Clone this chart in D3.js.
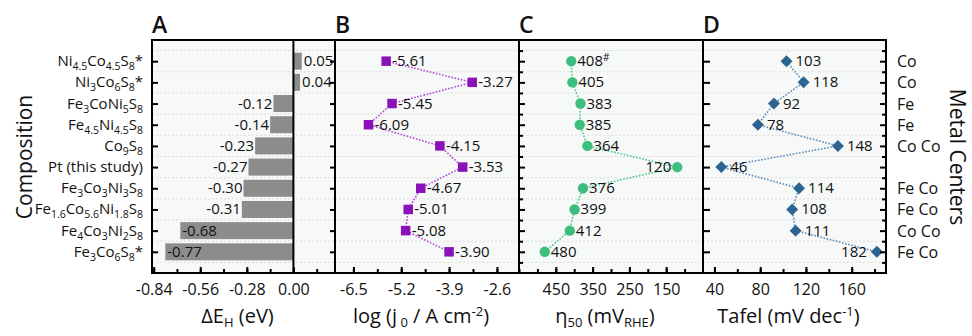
<!DOCTYPE html>
<html>
<head>
<meta charset="utf-8">
<script src="https://cdn.jsdelivr.net/npm/d3@7"></script>
<style>
  body { margin: 0; background: #fff; }
  text { font-family: "Open Sans", "Noto Sans", sans-serif; fill: #111; }
</style>
</head>
<body>
<div id="chart"></div>
<script>
// data ({..} = subscript)
var compositions = ["Ni{4.5}Co{4.5}S{8}*", "Ni{3}Co{6}S{8}*", "Fe{3}CoNi{5}S{8}", "Fe{4.5}Ni{4.5}S{8}",
  "Co{9}S{8}", "Pt (this study)", "Fe{3}Co{3}Ni{3}S{8}", "Fe{1.6}Co{5.6}Ni{1.8}S{8}", "Fe{4}Co{3}Ni{2}S{8}", "Fe{3}Co{6}S{8}*"];
var deltaE = [0.05, 0.04, -0.12, -0.14, -0.23, -0.27, -0.30, -0.31, -0.68, -0.77];
var logJ0 = [-5.61, -3.27, -5.45, -6.09, -4.15, -3.53, -4.67, -5.01, -5.08, -3.90];
var eta50 = [408, 405, 383, 385, 364, 120, 376, 399, 412, 480];
var eta50Notes = ["#", "", "", "", "", "", "", "", "", ""];
var tafel = [103, 118, 92, 78, 148, 46, 114, 108, 111, 182];
var metalCenters = ["Co", "Co", "Fe", "Fe", "Co Co", "", "Fe Co", "Fe Co", "Co Co", "Fe Co"];

var ticksA = [-0.84, -0.56, -0.28, 0.00];
var ticksB = [-6.5, -5.2, -3.9, -2.6];
var ticksC = [450, 350, 250, 150];
var ticksD = [40, 80, 120, 160];

var width = 972, height = 336;
var plotTop = 40, plotBottom = 273;

// plain hyphen for negatives, like the original figure
var loc = d3.formatLocale({decimal: ".", thousands: ",", grouping: [3], currency: ["", ""], minus: "-"});
var f2 = loc.format(".2f"), f1 = loc.format(".1f"), fd = loc.format("d");

var svg = d3.select("#chart").append("svg")
  .attr("width", width).attr("height", height);

var idx = d3.range(compositions.length);
// one step per category, one step of empty room above and below
var y = d3.scaleLinear().domain([-1, compositions.length]).range([plotTop, plotBottom]);
var majorY = idx;
var minorY = d3.range(-0.5, compositions.length, 1);

// panels
var panels = [
  {key: "A", x0: 152, x1: 335, domain: [-0.85, 0.25], ticks: ticksA, minorStep: 0.14,
   fmt: f2, title: [["ΔE", ""], ["H", "sub"], [" (eV)", ""]]},
  {key: "B", x0: 335, x1: 519, domain: [-7, -2], ticks: ticksB, minorStep: 0.65,
   fmt: f1, title: [["log (j", ""], [" 0", "sub"], [" / A cm", ""], ["-2", "sup"], [")", ""]]},
  {key: "C", x0: 519, x1: 703, domain: [550, 50], ticks: ticksC, minorStep: 50,
   fmt: fd, title: [["η", ""], ["50", "sub"], [" (mV", ""], ["RHE", "sub"], [")", ""]]},
  {key: "D", x0: 703, x1: 886, domain: [30, 190], ticks: ticksD, minorStep: 20,
   fmt: fd, title: [["Tafel (mV dec", ""], ["-1", "sup"], [")", ""]]}
];

panels.forEach(function(p) {
  p.x = d3.scaleLinear().domain(p.domain).range([p.x0, p.x1]);
  var lo = Math.min(p.domain[0], p.domain[1]), hi = Math.max(p.domain[0], p.domain[1]);
  p.minor = [];
  var start = Math.min.apply(null, p.ticks);
  for (var v = start - 10 * p.minorStep; v <= hi + 1e-9; v += p.minorStep) {
    if (v >= lo - 1e-9) p.minor.push(+v.toFixed(4));
  }
});

// write text with sub/superscript parts
function richText(sel, parts, small) {
  var back = 0;
  parts.forEach(function(pt) {
    var t = sel.append("tspan").text(pt[0]);
    if (pt[1] === "sub") {
      t.attr("font-size", small).attr("dy", (back + 4) + "px");
      back = -4;
    } else if (pt[1] === "sup") {
      t.attr("font-size", small).attr("dy", (back - 7) + "px");
      back = 7;
    } else {
      if (back) t.attr("dy", back + "px");
      back = 0;
    }
  });
}
function parseFormula(s) {
  return s.split(/(\{[^}]*\})/).filter(function(d) { return d.length; }).map(function(d) {
    return d[0] === "{" ? [d.slice(1, -1), "sub"] : [d, ""];
  });
}

panels.forEach(function(p) {
  var g = svg.append("g").attr("class", "panel-" + p.key);
  g.append("rect")
    .attr("x", p.x0).attr("y", plotTop)
    .attr("width", p.x1 - p.x0).attr("height", plotBottom - plotTop)
    .attr("fill", "#f7f8f8");
  g.selectAll("line.grid").data(minorY).enter().append("line")
    .attr("class", "grid")
    .attr("x1", p.x0).attr("x2", p.x1)
    .attr("y1", d => y(d)).attr("y2", d => y(d))
    .attr("stroke", "#dcdcdc").attr("stroke-width", 1)
    .attr("stroke-dasharray", "2,2");

  // bottom axis, ticks pointing in
  g.append("g")
    .attr("transform", "translate(0," + plotBottom + ")")
    .call(d3.axisBottom(p.x).tickValues(p.minor).tickSize(-4).tickFormat(""))
    .call(a => a.select(".domain").remove())
    .selectAll("line").attr("stroke", "#000").attr("stroke-width", 2);
  var ax = g.append("g")
    .attr("transform", "translate(0," + plotBottom + ")")
    .call(d3.axisBottom(p.x).tickValues(p.ticks).tickSize(-6).tickPadding(11).tickFormat(p.fmt));
  ax.select(".domain").remove();
  ax.selectAll("line").attr("stroke", "#000").attr("stroke-width", 2);
  ax.selectAll("text").attr("font-size", 16).attr("fill", "#111")
    .style("font-family", "'Open Sans', sans-serif");

  g.append("text")
    .attr("x", p.x0).attr("y", 33)
    .attr("font-size", 23).attr("font-weight", 600)
    .text(p.key);

  var tt = g.append("text")
    .attr("x", (p.x0 + p.x1) / 2 - 6).attr("y", 323)
    .attr("text-anchor", "middle")
    .attr("font-size", 20);
  richText(tt, p.title, 13);
});

var A = panels[0], B = panels[1], C = panels[2], D = panels[3];

// panel A bars
var barH = 17;
var gA = svg.append("g");
gA.selectAll("rect.bar").data(idx).enter().append("rect")
  .attr("class", "bar")
  .attr("x", i => A.x(Math.min(0, deltaE[i])))
  .attr("y", i => y(i) - barH / 2)
  .attr("width", i => Math.abs(A.x(deltaE[i]) - A.x(0)))
  .attr("height", barH)
  .attr("fill", "#8c8c8c");
gA.selectAll("text.val").data(idx).enter().append("text")
  .attr("class", "val")
  .attr("x", function(i) {
    var v = deltaE[i];
    if (v >= 0) return A.x(v) + 2;
    return v < -0.5 ? A.x(v) + 2 : A.x(v) - 1;
  })
  .attr("y", i => y(i) + 5)
  .attr("text-anchor", i => (deltaE[i] < 0 && deltaE[i] >= -0.5) ? "end" : "start")
  .attr("font-size", 15)
  .text(i => f2(deltaE[i]));

// connecting dotted line for a series
function series(p, vals, lineColor) {
  var g = svg.append("g");
  var line = d3.line().x(i => p.x(vals[i])).y(i => y(i));
  g.append("path").datum(idx)
    .attr("d", line)
    .attr("fill", "none")
    .attr("stroke", lineColor)
    .attr("stroke-width", 1.6)
    .attr("stroke-dasharray", "1.6,1.6");
  return g;
}

var gB = series(B, logJ0, "#b447d6");
gB.selectAll("path.mk").data(idx).enter().append("path")
  .attr("class", "mk")
  .attr("transform", i => "translate(" + B.x(logJ0[i]) + "," + y(i) + ")")
  .attr("d", d3.symbol(d3.symbolSquare, 90))
  .attr("fill", "#8a12b8");
gB.selectAll("text.val").data(idx).enter().append("text")
  .attr("class", "val")
  .attr("x", i => B.x(logJ0[i]) + 6)
  .attr("y", i => y(i) + 5)
  .attr("font-size", 15)
  .text(i => f2(logJ0[i]));

var gC = series(C, eta50, "#4cc98b");
gC.selectAll("circle").data(idx).enter().append("circle")
  .attr("cx", i => C.x(eta50[i]))
  .attr("cy", i => y(i))
  .attr("r", 5.2)
  .attr("fill", "#3dbe7e");
gC.selectAll("text.val").data(idx).enter().append("text")
  .attr("class", "val")
  .attr("x", i => eta50[i] < 200 ? C.x(eta50[i]) - 6 : C.x(eta50[i]) + 6)
  .attr("y", i => y(i) + 5)
  .attr("text-anchor", i => eta50[i] < 200 ? "end" : "start")
  .attr("font-size", 15)
  .each(function(i) {
    var t = d3.select(this);
    t.append("tspan").text(eta50[i]);
    if (eta50Notes[i]) t.append("tspan").attr("font-size", 10).attr("dy", "-0.5em").text(eta50Notes[i]);
  });

var gD = series(D, tafel, "#5a8db8");
gD.selectAll("path.mk").data(idx).enter().append("path")
  .attr("class", "mk")
  .attr("transform", i => "translate(" + D.x(tafel[i]) + "," + y(i) + ") rotate(45)")
  .attr("d", d3.symbol(d3.symbolSquare, 72))
  .attr("fill", "#2d6491");
gD.selectAll("text.val").data(idx).enter().append("text")
  .attr("class", "val")
  .attr("x", i => tafel[i] > 170 ? D.x(tafel[i]) - 10 : D.x(tafel[i]) + 9)
  .attr("y", i => y(i) + 5)
  .attr("text-anchor", i => tafel[i] > 170 ? "end" : "start")
  .attr("font-size", 15)
  .text(i => tafel[i]);

// vertical tick marks
function yTicks(xPos, vals, len, dir) {
  var axis = dir > 0 ? d3.axisRight(y) : d3.axisLeft(y);
  var g = svg.append("g").attr("transform", "translate(" + xPos + ",0)")
    .call(axis.tickValues(vals).tickSize(-len).tickFormat(""));
  g.select(".domain").remove();
  g.selectAll("line").attr("stroke", "#000").attr("stroke-width", 2);
}
yTicks(A.x0, majorY, 6, -1);
yTicks(A.x1, majorY, 5, 1);
yTicks(C.x0, majorY, 6, -1);
yTicks(C.x0, minorY, 4, -1);
yTicks(D.x0, majorY, 7, -1);
yTicks(D.x1, majorY, 6, 1);
yTicks(D.x1, minorY, 4, 1);

// frame and dividers
var frame = svg.append("g").attr("stroke", "#000").attr("stroke-width", 2).attr("fill", "none");
frame.append("rect").attr("x", A.x0).attr("y", plotTop).attr("width", D.x1 - A.x0).attr("height", plotBottom - plotTop);
[A.x1, B.x1, C.x1].forEach(function(xp) {
  frame.append("line").attr("x1", xp).attr("x2", xp).attr("y1", plotTop).attr("y2", plotBottom);
});
frame.append("line").attr("x1", A.x(0)).attr("x2", A.x(0)).attr("y1", plotTop).attr("y2", plotBottom);

// category labels
svg.append("g").selectAll("text").data(idx).enter().append("text")
  .attr("x", 143)
  .attr("y", i => y(i) + 5)
  .attr("text-anchor", "end")
  .attr("font-size", 15)
  .each(function(i) { richText(d3.select(this), parseFormula(compositions[i]), 10.5); });

svg.append("g").selectAll("text").data(idx).enter().append("text")
  .attr("x", 897)
  .attr("y", i => y(i) + 6)
  .attr("font-size", 16)
  .text(i => metalCenters[i]);

svg.append("text")
  .attr("transform", "translate(32," + 157 + ") rotate(-90)")
  .attr("text-anchor", "middle")
  .attr("font-size", 21)
  .text("Composition");

svg.append("text")
  .attr("transform", "translate(950," + 157 + ") rotate(90)")
  .attr("text-anchor", "middle")
  .attr("font-size", 21)
  .text("Metal Centers");
</script>
</body>
</html>
